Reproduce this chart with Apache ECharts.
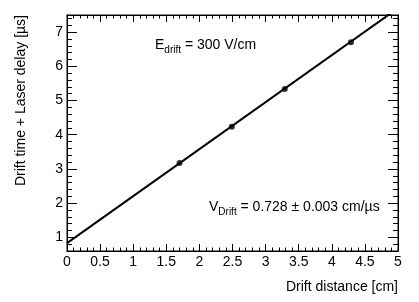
<!DOCTYPE html>
<html><head><meta charset="utf-8">
<script src="https://cdn.jsdelivr.net/npm/echarts@6/dist/echarts.min.js"></script>
<style>html,body{margin:0;padding:0;background:#fff}#c{width:419px;height:302px}</style>
</head><body><div id="c"></div>
<script>
// Data
const distance = [1.70, 2.49, 3.29, 4.29];        // Drift distance [cm]
const driftTime = [3.17, 4.23, 5.34, 6.70];       // Drift time + Laser delay [µs]
const fitX = [0, 5];                              // straight-line fit end points
const fitY = [0.83, 7.70];
const yMajorTicks = [1, 2, 3, 4, 5, 6, 7];
const yMinorTicks = [0.8, 1.2, 1.4, 1.6, 1.8, 2.2, 2.4, 2.6, 2.8, 3.2, 3.4, 3.6, 3.8,
                     4.2, 4.4, 4.6, 4.8, 5.2, 5.4, 5.6, 5.8, 6.2, 6.4, 6.6, 6.8, 7.2, 7.4];
const xTitle = 'Drift distance [cm]';
const yTitle = 'Drift time + Laser delay [µs]';

const F = '"Liberation Sans", Arial, Helvetica, sans-serif';
const X_MIN = 0, X_MAX = 5, Y_MIN = 0.6, Y_MAX = 7.5;

function xAx(pos, labels) {
  return {
    type: 'value', position: pos, min: X_MIN, max: X_MAX, interval: 0.5,
    axisLine: { show: true, onZero: false, lineStyle: { color: '#000', width: 1 } },
    axisTick: { show: true, inside: true, length: 7, lineStyle: { color: '#000' } },
    minorTick: { show: true, splitNumber: 5, length: 3.5, lineStyle: { color: '#000' } },
    splitLine: { show: false }, minorSplitLine: { show: false },
    axisLabel: { show: labels, margin: 4, fontSize: 14, fontFamily: F, color: '#000',
                 showMinLabel: true, showMaxLabel: true }
  };
}
function yAx(pos, values, len, labels) {
  return {
    type: 'value', position: pos, min: Y_MIN, max: Y_MAX,
    axisLine: { show: true, onZero: false, lineStyle: { color: '#000', width: 1 } },
    axisTick: { show: true, inside: true, length: len, customValues: values, lineStyle: { color: '#000' } },
    splitLine: { show: false },
    axisLabel: { show: labels, customValues: values, margin: 4, fontSize: 14, fontFamily: F, color: '#000' }
  };
}

const chart = echarts.init(document.getElementById('c'), null, { renderer: 'canvas' });
chart.setOption({
  animation: false,
  backgroundColor: '#fff',
  grid: { left: 67, right: 21, top: 15, bottom: 51, show: true, borderColor: '#000', borderWidth: 1, backgroundColor: 'transparent' },
  xAxis: [xAx('bottom', true), xAx('top', false)],
  yAxis: [
    yAx('left', yMajorTicks, 10, true),
    yAx('left', yMinorTicks, 5, false),
    yAx('right', yMajorTicks, 10, false),
    yAx('right', yMinorTicks, 5, false)
  ],
  series: [
    {
      type: 'line', xAxisIndex: 0, yAxisIndex: 0, clip: true, silent: true,
      showSymbol: false, symbol: 'none',
      lineStyle: { color: '#000', width: 2 },
      data: fitX.map((x, i) => [x, fitY[i]])
    },
    {
      type: 'scatter', xAxisIndex: 0, yAxisIndex: 0, symbol: 'circle', symbolSize: 6,
      itemStyle: { color: '#000' },
      data: distance.map((x, i) => [x, driftTime[i]])
    }
  ],
  graphic: [
    { type: 'text', x: 398, y: 287,
      style: { text: xTitle, fill: '#000', font: '14px ' + F, align: 'right', verticalAlign: 'middle' } },
    { type: 'text', x: 21, y: 15, rotation: Math.PI / 2,
      style: { text: yTitle, fill: '#000', font: '14px ' + F, align: 'right', verticalAlign: 'middle' } },
    { type: 'text', x: 155, y: 45,
      style: { text: '{a|E}{b|drift}{a| = 300 V/cm}', verticalAlign: 'middle', align: 'left',
        rich: { a: { fontSize: 14, fontFamily: F, fill: '#000', lineHeight: 20 },
                b: { fontSize: 10, fontFamily: F, fill: '#000', lineHeight: 10, verticalAlign: 'bottom' } } } },
    { type: 'text', x: 209, y: 207,
      style: { text: '{a|V}{b|Drift}{a| = 0.728 ± 0.003 cm/µs}', verticalAlign: 'middle', align: 'left',
        rich: { a: { fontSize: 14, fontFamily: F, fill: '#000', lineHeight: 20 },
                b: { fontSize: 10, fontFamily: F, fill: '#000', lineHeight: 10, verticalAlign: 'bottom' } } } }
  ]
});
</script>
</body></html>
